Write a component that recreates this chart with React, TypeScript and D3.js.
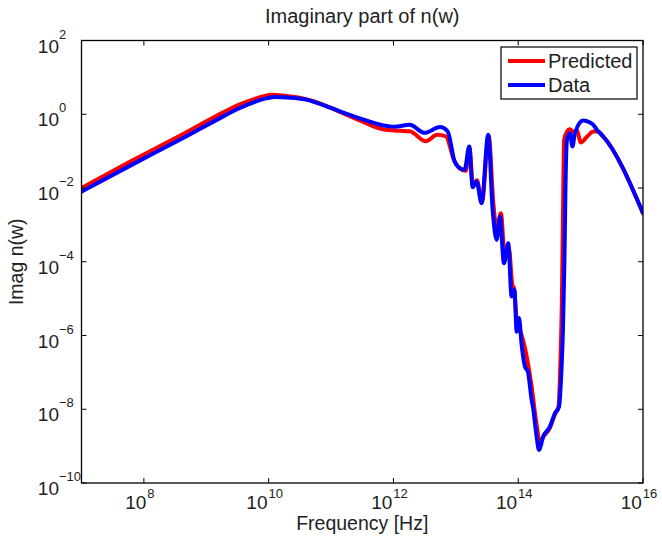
import * as d3 from "d3";

// values, stored as log10 (x: frequency in Hz, y: Imag n(w))
const predictedFreqExp = [7.0, 7.774, 8.576, 9.137, 9.538, 9.779, 9.92, 10.06, 10.25, 10.55, 10.82, 11.14, 11.46, 11.83, 12.1, 12.26, 12.52, 12.7, 12.84, 12.97, 13.06, 13.16, 13.218, 13.274, 13.338, 13.418, 13.527, 13.603, 13.658, 13.722, 13.786, 13.85, 13.906, 13.931, 13.979, 14.027, 14.108, 14.215, 14.284, 14.348, 14.41, 14.508, 14.588, 14.645, 14.677, 14.7, 14.72, 14.736, 14.781, 14.829, 14.885, 14.941, 15.0, 15.101, 15.203, 15.283, 15.363, 16.0];
const predictedValExp = [-2.0, -1.291, -0.585, -0.07, 0.269, 0.418, 0.49, 0.53, 0.505, 0.43, 0.296, 0.066, -0.165, -0.409, -0.45, -0.463, -0.735, -0.558, -0.599, -1.237, -1.467, -1.535, -0.911, -1.942, -1.793, -2.376, -0.585, -2.457, -3.136, -2.683, -3.895, -3.624, -4.628, -4.71, -5.632, -5.849, -6.337, -7.387, -8.29, -8.879, -8.724, -8.508, -8.141, -7.937, -6.663, -5.035, -2.322, -0.694, -0.477, -0.409, -0.477, -0.436, -0.767, -0.613, -0.469, -0.469, -0.604, -2.683];

const dataFreqExp = [7.0, 7.774, 8.576, 9.137, 9.538, 9.779, 9.96, 10.11, 10.3, 10.58, 10.82, 11.14, 11.46, 11.83, 12.02, 12.26, 12.5, 12.745, 12.87, 12.98, 13.06, 13.14, 13.215, 13.27, 13.333, 13.413, 13.519, 13.59, 13.654, 13.707, 13.771, 13.84, 13.894, 13.939, 13.975, 14.012, 14.055, 14.108, 14.156, 14.215, 14.236, 14.295, 14.332, 14.4, 14.508, 14.588, 14.653, 14.693, 14.717, 14.741, 14.757, 14.781, 14.829, 14.869, 14.909, 15.042, 15.15, 15.203, 15.283, 15.363, 16.0];
const dataValExp = [-2.1, -1.4, -0.69, -0.18, 0.17, 0.337, 0.43, 0.47, 0.455, 0.405, 0.283, 0.079, -0.111, -0.3, -0.34, -0.287, -0.504, -0.349, -0.469, -1.283, -1.454, -1.508, -0.876, -1.977, -1.825, -2.411, -0.558, -2.593, -3.407, -2.775, -4.039, -3.496, -4.945, -4.763, -5.895, -5.523, -6.256, -6.844, -6.988, -7.748, -7.937, -8.743, -9.105, -8.743, -8.472, -8.109, -7.938, -6.934, -5.849, -3.95, -2.05, -0.694, -0.512, -0.876, -0.512, -0.17, -0.225, -0.287, -0.469, -0.604, -2.683];

const xTickExp = [8, 10, 12, 14, 16];
const yTickExp = [-10, -8, -6, -4, -2, 0, 2];
const seriesNames = ["Predicted", "Data"];
const seriesColors = ["#ff0000", "#0000ff"];

const W = 662;
const H = 540;
const left = 81.5, right = 643, top = 40.5, bottom = 483;
const font = "'Liberation Sans', Arial, Helvetica, sans-serif";

export default function App() {
  const x = d3.scaleLog().domain([1e7, 1e16]).range([left, right]);
  const y = d3.scaleLog().domain([1e-10, 1e2]).range([bottom, top]);

  const line = d3
    .line<[number, number]>()
    .x((d) => x(d[0]))
    .y((d) => y(d[1]))
    .curve(d3.curveMonotoneX);

  const predicted: [number, number][] = predictedFreqExp.map((f, i) => [10 ** f, 10 ** predictedValExp[i]]);
  const data: [number, number][] = dataFreqExp.map((f, i) => [10 ** f, 10 ** dataValExp[i]]);
  const series = [predicted, data];

  const tickLen = 5;

  return (
    <svg width={W} height={H} style={{ position: "absolute", left: 0, top: 0, background: "#fff" }} fontFamily={font}>
      <rect x={0} y={0} width={W} height={H} fill="#fff" />

      <defs>
        <clipPath id="plot-clip">
          <rect x={left} y={top} width={right - left} height={bottom - top} />
        </clipPath>
      </defs>

      {/* curves */}
      <g clipPath="url(#plot-clip)">
        {series.map((s, i) => (
          <path key={i} d={line(s) ?? ""} fill="none" stroke={seriesColors[i]} strokeWidth={4} strokeLinejoin="round" strokeLinecap="round" />
        ))}
      </g>

      {/* box and inward ticks */}
      <rect x={left} y={top} width={right - left} height={bottom - top} fill="none" stroke="#000" strokeWidth={1.3} />
      {xTickExp.map((e) => {
        const px = x(10 ** e);
        return (
          <g key={"xt" + e}>
            <line x1={px} x2={px} y1={bottom} y2={bottom - tickLen} stroke="#000" />
            <line x1={px} x2={px} y1={top} y2={top + tickLen} stroke="#000" />
            <text x={px - 4} y={509} fontSize={19} textAnchor="middle" fill="#222">
              10
              <tspan fontSize={13} dy={-11} dx={1}>{e}</tspan>
            </text>
          </g>
        );
      })}
      {yTickExp.map((e) => {
        const py = y(10 ** e);
        return (
          <g key={"yt" + e}>
            <line x1={left} x2={left + tickLen} y1={py} y2={py} stroke="#000" />
            <line x1={right} x2={right - tickLen} y1={py} y2={py} stroke="#000" />
            <text x={59} y={py + 12} fontSize={19} textAnchor="end" fill="#222">10</text>
            <text x={59} y={py - 2} fontSize={13} textAnchor="start" fill="#222">
              {e < 0 ? "\u2212" + Math.abs(e) : e}
            </text>
          </g>
        );
      })}

      {/* titles */}
      <text x={(left + right) / 2} y={23} fontSize={20} textAnchor="middle" fill="#222">Imaginary part of n(w)</text>
      <text x={(left + right) / 2} y={530} fontSize={19.5} textAnchor="middle" fill="#222">Frequency [Hz]</text>
      <text transform={`translate(23,${(top + bottom) / 2}) rotate(-90)`} fontSize={19.5} textAnchor="middle" fill="#222">Imag n(w)</text>

      {/* legend */}
      <rect x={501} y={47} width={136} height={52} fill="#fff" stroke="#000" strokeWidth={1.2} />
      {seriesNames.map((name, i) => (
        <g key={name} transform={`translate(0,${61 + i * 24})`}>
          <line x1={508} x2={545} y1={0} y2={0} stroke={seriesColors[i]} strokeWidth={4} />
          <text x={548} y={7} fontSize={20} fill="#222">{name}</text>
        </g>
      ))}
    </svg>
  );
}
